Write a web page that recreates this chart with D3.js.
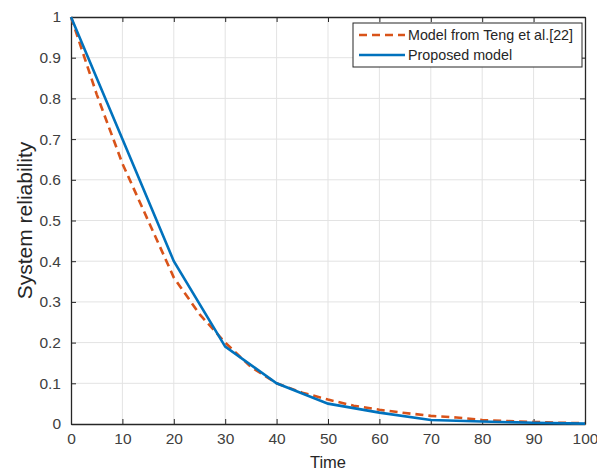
<!DOCTYPE html>
<html>
<head>
<meta charset="utf-8">
<script src="https://cdn.jsdelivr.net/npm/d3@7"></script>
<style>
  body { margin: 0; background: #fff; }
  text { font-family: "Liberation Sans", Arial, sans-serif; }
</style>
</head>
<body>
<svg width="597" height="471"></svg>
<script>
// values
var tProposed = [0, 10, 20, 30, 40, 50, 60, 70, 80, 90, 100];
var proposed  = [1, 0.7, 0.4, 0.19, 0.1, 0.05, 0.028, 0.01, 0.006, 0.003, 0.001];

var tTeng = [0, 5, 10, 15, 20, 25, 30, 35, 40, 45, 50, 55, 60, 65, 70, 75, 80, 85, 90, 95, 100];
var teng  = [1, 0.81, 0.64, 0.5, 0.36, 0.27, 0.2, 0.14, 0.1, 0.077, 0.06, 0.045, 0.035, 0.027, 0.02, 0.016, 0.01, 0.007, 0.005, 0.003, 0.002];

var xTicks = [0, 10, 20, 30, 40, 50, 60, 70, 80, 90, 100];
var yTicks = [0, 0.1, 0.2, 0.3, 0.4, 0.5, 0.6, 0.7, 0.8, 0.9, 1];
var legendNames = ["Model from Teng et al.[22]", "Proposed model"];

var svg = d3.select("svg"),
    margin = {top: 17, right: 12, bottom: 47, left: 71},
    width = +svg.attr("width") - margin.left - margin.right,
    height = +svg.attr("height") - margin.top - margin.bottom,
    g = svg.append("g").attr("transform", "translate(" + margin.left + "," + margin.top + ")");

var x = d3.scaleLinear().domain([0, 100]).range([0, width]);
var y = d3.scaleLinear().domain([0, 1]).range([height, 0]);

// grid
g.append("g").selectAll("line").data(xTicks.slice(1, -1)).enter().append("line")
  .attr("x1", function(d) { return x(d); }).attr("x2", function(d) { return x(d); })
  .attr("y1", 0).attr("y2", height)
  .attr("stroke", "#e3e3e3").attr("stroke-width", 1);
g.append("g").selectAll("line").data(yTicks.slice(1, -1)).enter().append("line")
  .attr("y1", function(d) { return y(d); }).attr("y2", function(d) { return y(d); })
  .attr("x1", 0).attr("x2", width)
  .attr("stroke", "#e3e3e3").attr("stroke-width", 1);

// axes (MATLAB style, ticks inward, box on)
function styleAxis(sel) {
  sel.select(".domain").attr("stroke", "#262626").attr("stroke-width", 1.3);
  sel.selectAll(".tick line").attr("stroke", "#262626");
  sel.selectAll(".tick text").attr("fill", "#404040").style("font-size", "15.5px");
}
g.append("g").attr("transform", "translate(0," + height + ")")
  .call(d3.axisBottom(x).tickValues(xTicks).tickSize(-5).tickSizeOuter(0).tickPadding(9).tickFormat(d3.format("d")))
  .call(styleAxis);
g.append("g")
  .call(d3.axisLeft(y).tickValues(yTicks).tickSize(-5).tickSizeOuter(0).tickPadding(10).tickFormat(function(d) { return d === 0 || d === 1 ? d : d3.format(".1f")(d); }))
  .call(styleAxis);
g.append("g")
  .call(d3.axisTop(x).tickValues(xTicks).tickSize(-5).tickSizeOuter(0).tickFormat(""))
  .call(styleAxis);
g.append("g").attr("transform", "translate(" + width + ",0)")
  .call(d3.axisRight(y).tickValues(yTicks).tickSize(-5).tickSizeOuter(0).tickFormat(""))
  .call(styleAxis);

// lines
var line = d3.line()
  .x(function(d) { return x(d[0]); })
  .y(function(d) { return y(d[1]); });

g.append("path")
  .attr("d", line(d3.zip(tTeng, teng)))
  .attr("fill", "none").attr("stroke", "#D95319").attr("stroke-width", 2.6)
  .attr("stroke-dasharray", "8,5");
g.append("path")
  .attr("d", line(d3.zip(tProposed, proposed)))
  .attr("fill", "none").attr("stroke", "#0072BD").attr("stroke-width", 2.6);

// axis labels
svg.append("text")
  .attr("x", margin.left + width / 2).attr("y", 468)
  .attr("text-anchor", "middle").attr("fill", "#262626")
  .style("font-size", "16.5px").text("Time");
svg.append("text")
  .attr("transform", "translate(32," + (margin.top + height / 2) + ") rotate(-90)")
  .attr("text-anchor", "middle").attr("fill", "#262626")
  .style("font-size", "21px").text("System reliability");

// legend
var legend = svg.append("g").attr("transform", "translate(353,23)");
legend.append("rect").attr("width", 229).attr("height", 44)
  .attr("fill", "#fff").attr("stroke", "#262626").attr("stroke-width", 1);
legend.append("line").attr("x1", 6).attr("x2", 52).attr("y1", 12).attr("y2", 12)
  .attr("stroke", "#D95319").attr("stroke-width", 2.6).attr("stroke-dasharray", "8,5");
legend.append("line").attr("x1", 6).attr("x2", 52).attr("y1", 32).attr("y2", 32)
  .attr("stroke", "#0072BD").attr("stroke-width", 2.6);
legend.selectAll("text.lg").data(legendNames).enter().append("text")
  .attr("class", "lg")
  .attr("x", 55).attr("y", function(d, i) { return 17 + i * 20; })
  .attr("fill", "#262626").style("font-size", "14.3px")
  .text(function(d) { return d; });
</script>
</body>
</html>
